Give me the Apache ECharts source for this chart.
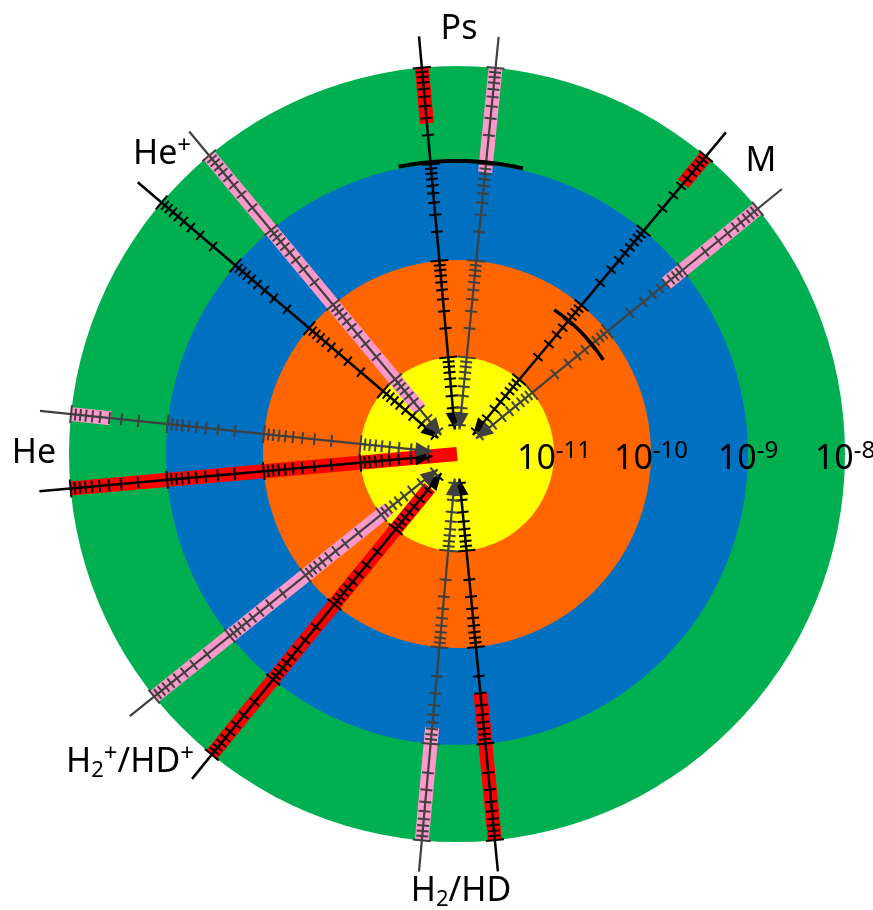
<!DOCTYPE html>
<html><head><meta charset="utf-8">
<script src="https://cdn.jsdelivr.net/npm/echarts@6/dist/echarts.min.js"></script>
<style>html,body{margin:0;padding:0;background:#fff}#c{width:873px;height:910px}</style>
</head><body><div id="c"></div>
<script>
// ---- data ----
// decade rings (log radial scale, centre = 1e-12)
const ringValues = [1e-8, 1e-9, 1e-10, 1e-11];
const ringColors = ['#00B050', '#0070C0', '#FF6600', '#FFFF00'];
const tickDecades = [-12, -11, -10, -9];
const axisLabelExps = [-11, -10, -9, -8];

// radial lines: angle in degrees clockwise from east
const lineNames  = ['Ps-1','Ps-2','M-1','M-2','He+-1','He+-2','He-1','He-2','H2+-1','H2+-2','H2-1','H2-2'];
const lineAngles = [264.8, 275.7, 309.9, 320.8, 220.4, 230.3, 174.9, 185.9, 129.2, 141.3, 84.4, 95.2];
const lineKinds  = ['black','gray','black','gray','black','gray','black','gray','black','gray','black','gray'];

// range bars along lines
const barLine = [0, 1, 2, 3, 5, 6, 7, 8, 9, 10, 11];
const barFrom = [2.65e-9, 8.3e-10, 4.3e-9, 6.1e-10, 3.9e-12, 1e-12, 3.9e-9, 2.8e-12, 8e-12, 3e-10, 6.8e-10];
const barTo   = [1e-8, 1e-8, 1e-8, 1e-8, 1e-8, 1e-8, 1e-8, 1e-8, 1e-8, 1e-8, 1e-8];
const barKind = ['red','pink','red','pink','pink','red','pink','red','pink','red','pink'];

// arcs
const arcValue = [1.05e-9, 6.2e-11];
const arcFrom  = [258.5, 304];
const arcTo    = [283, 327.4];

const CENTER = 1e-12, LINE_END = 2.1e-8, ARROW_TIP = 1.8e-12;

// ---- helpers ----
const tickValues = [], tickMajor = [];
tickDecades.forEach(d => {
  for (let k = 1; k <= 9; k++) {
    if (d === -12 && k === 1) continue;
    tickValues.push(k * Math.pow(10, d));
    tickMajor.push(k === 1);
  }
});
tickValues.push(1e-8); tickMajor.push(true);

const FONT = 'Noto Sans';
const COLORS = { black: '#000000', gray: '#404040', red: '#FF0000', pink: '#FF99CC' };

function dirInfo(api, a) {
  const c = api.coord([CENTER, a]);
  const e = api.coord([LINE_END, a]);
  const len = Math.hypot(e[0] - c[0], e[1] - c[1]);
  const ux = (e[0] - c[0]) / len, uy = (e[1] - c[1]) / len;
  return { c, e, ux, uy, px: -uy, py: ux };
}

const ringSeries = {
  type: 'custom', coordinateSystem: 'polar', silent: true, z: 1,
  data: ringValues.map((v, i) => [v, 0, i]),
  renderItem: (params, api) => {
    const i = api.value(2);
    const c = api.coord([CENTER, 0]);
    const p = api.coord([api.value(0), 0]);
    return { type: 'circle', shape: { cx: c[0], cy: c[1], r: Math.hypot(p[0] - c[0], p[1] - c[1]) },
      style: { fill: ringColors[i] } };
  }
};

const barSeries = {
  type: 'custom', coordinateSystem: 'polar', silent: true, z: 2,
  data: barLine.map((li, j) => [barTo[j], lineAngles[li], j]),
  renderItem: (params, api) => {
    const j = api.value(2);
    const a = lineAngles[barLine[j]];
    const p0 = api.coord([barFrom[j], a]);
    const p1 = api.coord([barTo[j], a]);
    return { type: 'line', shape: { x1: p0[0], y1: p0[1], x2: p1[0], y2: p1[1] },
      style: { stroke: COLORS[barKind[j]], lineWidth: 14, lineCap: 'butt' } };
  }
};

const lineSeries = {
  type: 'custom', coordinateSystem: 'polar', silent: true, z: 3,
  data: lineAngles.map((a, i) => [LINE_END, a, i]),
  renderItem: (params, api) => {
    const i = api.value(2);
    const a = lineAngles[i];
    const col = COLORS[lineKinds[i]];
    const d = dirInfo(api, a);
    const t = api.coord([ARROW_TIP, a]);
    const children = [];
    children.push({ type: 'line', shape: { x1: t[0], y1: t[1], x2: d.e[0], y2: d.e[1] },
      style: { stroke: col, lineWidth: lineKinds[i] === 'black' ? 2.5 : 2.2 } });
    tickValues.forEach((v, k) => {
      const p = api.coord([v, a]);
      const h = tickMajor[k] ? 9 : 6;
      children.push({ type: 'line', shape: { x1: p[0] - d.px * h, y1: p[1] - d.py * h, x2: p[0] + d.px * h, y2: p[1] + d.py * h },
        style: { stroke: col, lineWidth: 2 } });
    });
    const bx = t[0] + d.ux * 17, by = t[1] + d.uy * 17;
    children.push({ type: 'polygon', shape: { points: [[t[0], t[1]], [bx + d.px * 7.5, by + d.py * 7.5], [bx - d.px * 7.5, by - d.py * 7.5]] },
      style: { fill: col } });
    return { type: 'group', children };
  }
};

const arcSeries = {
  type: 'custom', coordinateSystem: 'polar', silent: true, z: 4,
  data: arcValue.map((v, i) => [v, arcFrom[i], i]),
  renderItem: (params, api) => {
    const i = api.value(2);
    const pts = [];
    for (let a = arcFrom[i]; a <= arcTo[i] + 1e-9; a += 0.25) pts.push(api.coord([arcValue[i], a]));
    return { type: 'polyline', shape: { points: pts }, style: { stroke: '#000', lineWidth: i === 0 ? 4 : 3.5, fill: null } };
  }
};

const RICH = {
  n:   { fontSize: 34, fontFamily: FONT, fill: '#000', lineHeight: 44, verticalAlign: 'bottom', padding: [0, 0, 3, 0] },
  sub: { fontSize: 22, fontFamily: FONT, fill: '#000', lineHeight: 44, verticalAlign: 'bottom' },
  sup: { fontSize: 24, fontFamily: FONT, fill: '#000', lineHeight: 44, verticalAlign: 'bottom', padding: [0, 0, 16, 0] }
};
function lbl(x, y, text) {
  return { type: 'text', x, y, z: 100, silent: true,
    style: { text, rich: RICH, align: 'center', verticalAlign: 'middle', fontFamily: FONT, fontSize: 34 } };
}

const option = {
  animation: false,
  backgroundColor: '#ffffff',
  polar: { center: [457, 454], radius: 436.5 },
  angleAxis: { type: 'value', min: 0, max: 360, startAngle: 0, clockwise: true, show: false },
  radiusAxis: {
    type: 'log', logBase: 10, min: 1e-12, max: Math.pow(10, -7.5), z: 50,
    axisLine: { show: false }, axisTick: { show: false }, splitLine: { show: false },
    axisLabel: {
      margin: 0, align: 'center', verticalAlign: 'middle',
      formatter: (v) => {
        const lg = Math.log10(v), e = Math.round(lg);
        if (Math.abs(lg - e) > 1e-6 || axisLabelExps.indexOf(e) < 0) return '';
        return '{b|10}{s|' + e + '}';
      },
      rich: {
        b: { fontSize: 34, fontFamily: FONT, color: '#000', lineHeight: 44, verticalAlign: 'bottom' },
        s: { fontSize: 24, fontFamily: FONT, color: '#000', lineHeight: 44, verticalAlign: 'bottom', padding: [0, 0, 13, 0] }
      }
    }
  },
  series: [ringSeries, barSeries, lineSeries, arcSeries],
  graphic: [
    lbl(459, 27, '{n|Ps}'),
    lbl(761, 159, '{n|M}'),
    lbl(162, 152, '{n|He}{sup|+}'),
    lbl(34, 451, '{n|He}'),
    lbl(130, 760, '{n|H}{sub|2}{sup|+}{n|/HD}{sup|+}'),
    lbl(461, 889, '{n|H}{sub|2}{n|/HD}')
  ]
};
const chart = echarts.init(document.getElementById('c'), null, { renderer: 'canvas' });
chart.setOption(option);
</script>
</body></html>
